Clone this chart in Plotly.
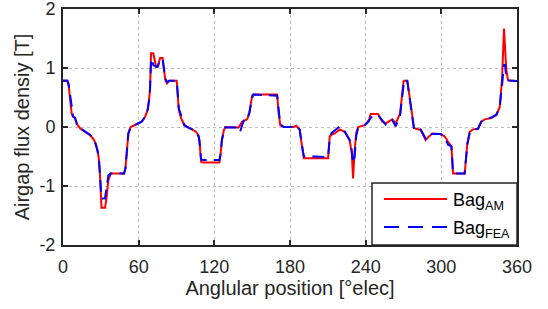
import plotly.graph_objects as go

# Angular position [deg elec]
angle = [0, 3.4, 4.5, 5.5, 6.9, 8, 9.5, 11, 13.5, 18, 21.4, 24, 26, 27.5, 28.5, 29.3, 30, 30.5, 33.3, 34.5, 36, 37.8,
         48.4, 49.5, 50.5, 51.8, 53.7, 58, 62.4, 65, 67.2, 68.2, 69, 69.8, 70.6, 71.6, 73.8, 75.1, 77, 79, 80.5, 81.1,
         82.5, 84.3, 90.2, 91, 91.8, 93.6, 96.2, 100.2, 103, 105.5, 107.5, 108.2, 109.5, 111, 122.7, 124, 125, 126,
         127.5, 128.7, 139.3, 140.5, 142, 144, 146, 147.8, 150, 151, 160, 169.8, 171, 172.3, 175, 183, 185, 187.7,
         189, 190.3, 191, 200, 210.2, 211.5, 213, 215.5, 219.4, 223.4, 227.3, 229, 230, 231.3, 232.5, 234, 239.3,
         242.6, 244, 249.8, 253.2, 255.9, 261.1, 263.8, 267.3, 270, 270.5, 273, 275.7, 278.4, 283.6, 287.6, 290.2,
         292.9, 299.5, 302.7, 305.3, 308, 309.3, 318.5, 320.6, 322.5, 325.1, 329.1, 331.7, 334.4, 339.6, 343.6,
         346.3, 348.1, 349.7, 350.5, 351.5, 352.9, 360]

# Analytical model
bag_am = [0.78, 0.78, 0.70, 0.50, 0.22, 0.17, 0.16, 0.05, -0.02, -0.09, -0.14, -0.20, -0.28, -0.40, -0.55, -0.80,
          -1.34, -1.37, -1.37, -1.20, -0.90, -0.79, -0.79, -0.70, -0.45, -0.11, 0.0, 0.04, 0.09, 0.17, 0.29, 0.45,
          0.63, 1.25, 1.25, 1.25, 1.02, 1.02, 1.17, 1.17, 0.90, 0.80, 0.74, 0.785, 0.785, 0.55, 0.29, 0.15, 0.03,
          -0.02, -0.05, -0.08, -0.15, -0.22, -0.59, -0.60, -0.60, -0.60, -0.45, -0.22, -0.06, 0.0, -0.01, 0.03,
          0.09, 0.11, 0.13, 0.23, 0.54, 0.55, 0.55, 0.55, 0.23, 0.03, 0.0, 0.0, 0.02, -0.05, -0.25, -0.50, -0.53,
          -0.53, -0.53, -0.16, -0.13, -0.11, -0.04, -0.08, -0.22, -0.45, -0.87, -0.39, -0.10, 0.0, 0.03, 0.12,
          0.22, 0.22, 0.09, 0.06, 0.13, 0.06, 0.23, 0.77, 0.785, 0.785, 0.34, -0.02, -0.05, -0.22, -0.16, -0.11,
          -0.12, -0.16, -0.25, -0.33, -0.79, -0.79, -0.28, -0.08, -0.04, -0.03, 0.09, 0.13, 0.15, 0.20, 0.34,
          0.80, 1.67, 1.30, 0.97, 0.79, 0.78]

# Finite element analysis
bag_fea = [0.79, 0.79, 0.72, 0.55, 0.28, 0.18, 0.15, 0.05, -0.02, -0.08, -0.13, -0.19, -0.30, -0.42, -0.55, -0.80,
           -1.20, -1.21, -1.21, -1.00, -0.82, -0.79, -0.79, -0.70, -0.45, -0.11, 0.0, 0.04, 0.09, 0.17, 0.30, 0.45,
           0.65, 1.10, 1.16, 1.05, 1.02, 1.02, 1.15, 1.15, 0.92, 0.82, 0.76, 0.785, 0.785, 0.55, 0.32, 0.20, 0.03,
           -0.02, -0.04, -0.09, -0.16, -0.25, -0.55, -0.56, -0.55, -0.56, -0.45, -0.22, -0.08, -0.01, -0.01, -0.08,
           0.03, 0.14, 0.13, 0.25, 0.50, 0.55, 0.54, 0.53, 0.30, 0.05, 0.0, 0.0, 0.02, -0.04, -0.25, -0.48, -0.50,
           -0.50, -0.51, -0.20, -0.10, -0.06, 0.01, -0.08, -0.22, -0.40, -0.61, -0.50, -0.15, -0.02, 0.03, 0.10,
           0.16, 0.20, 0.10, 0.04, 0.12, 0.01, 0.20, 0.75, 0.80, 0.78, 0.40, -0.05, -0.04, -0.20, -0.12, -0.12,
           -0.12, -0.17, -0.30, -0.33, -0.79, -0.79, -0.30, -0.10, -0.04, -0.03, 0.09, 0.13, 0.16, 0.21, 0.34,
           0.70, 1.05, 1.05, 0.85, 0.79, 0.78]

x_ticks = [0, 60, 120, 180, 240, 300, 360]
x_tick_labels = ["0", "60", "120", "180", "240", "300", "360"]
y_ticks = [-2, -1, 0, 1, 2]
y_tick_labels = ["-2", "-1", "0", "1", "2"]
series_names = ["Bag<sub>AM</sub>", "Bag<sub>FEA</sub>"]
series_colors = ["#ff0000", "#0000ff"]

fig = go.Figure()
fig.add_trace(go.Scatter(x=angle, y=bag_am, mode="lines", name=series_names[0], showlegend=False,
                         line=dict(color=series_colors[0], width=2)))
fig.add_trace(go.Scatter(x=angle, y=bag_fea, mode="lines", name=series_names[1], showlegend=False,
                         line=dict(color=series_colors[1], width=2, dash="12px,7px")))

axis_common = dict(showline=True, linecolor="#262626", linewidth=2, mirror="ticks",
                   ticks="inside", ticklen=5, tickwidth=2, tickcolor="#262626",
                   showgrid=True, gridcolor="#bdbdbd", gridwidth=1, griddash="dot",
                   zeroline=False, ticklabeloverflow="allow",
                   tickfont=dict(size=18, color="#262626"))

fig.update_xaxes(range=[0, 360], tickvals=x_ticks, ticktext=x_tick_labels, ticklabelstandoff=4,
                 title=dict(text="Anglular position [°elec]", font=dict(size=20, color="#262626"), standoff=2),
                 **axis_common)
fig.update_yaxes(range=[-2, 2], tickvals=y_ticks, ticktext=y_tick_labels, ticklabelstandoff=2,
                 title=dict(text="Airgap flux densiy [T]", font=dict(size=20, color="#262626"), standoff=4),
                 **axis_common)

# Legend drawn in paper coordinates (box lower-right inside the axes)
def px_x(p):
    return (p - 63) / 454.0

def px_y(p):
    return (245 - p) / 236.0

fig.add_shape(type="rect", xref="paper", yref="paper", x0=px_x(372), x1=px_x(517), y0=px_y(245), y1=px_y(183),
              line=dict(color="#262626", width=1.5), fillcolor="white", layer="above")
fig.add_shape(type="line", xref="paper", yref="paper", x0=px_x(384), x1=px_x(447), y0=px_y(199), y1=px_y(199),
              line=dict(color=series_colors[0], width=2), layer="above")
fig.add_shape(type="line", xref="paper", yref="paper", x0=px_x(384), x1=px_x(447), y0=px_y(227), y1=px_y(227),
              line=dict(color=series_colors[1], width=2, dash="15px,9px"), layer="above")
for name, ypx in zip(series_names, [201, 229]):
    fig.add_annotation(text=name, xref="paper", yref="paper", x=px_x(451), y=px_y(ypx),
                       xanchor="left", yanchor="middle", showarrow=False,
                       font=dict(size=18, color="#000000"))

fig.update_layout(
    width=548, height=309,
    margin=dict(l=63, r=31, t=9, b=64, autoexpand=False),
    paper_bgcolor="white", plot_bgcolor="white",
    font=dict(family="Liberation Sans, Arial, sans-serif", size=17, color="#000000"),
    showlegend=False,
)

fig.write_html("out.html", config={"displayModeBar": False},
               post_script="document.body.style.margin='0px';document.body.style.padding='0px';")
